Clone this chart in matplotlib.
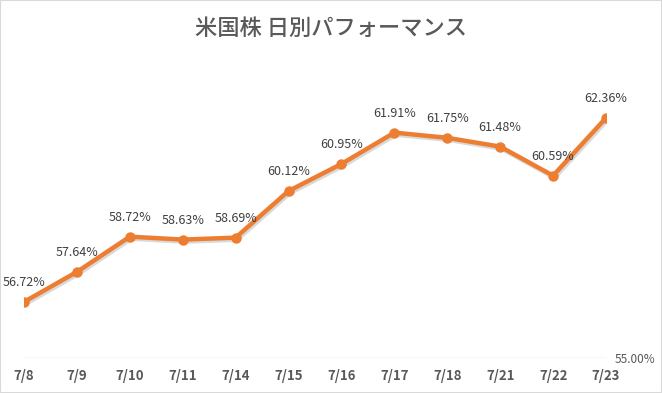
import matplotlib.pyplot as plt
import matplotlib.patheffects as pe
from matplotlib.patches import Rectangle

dates = ["7/8", "7/9", "7/10", "7/11", "7/14", "7/15", "7/16", "7/17", "7/18", "7/21", "7/22", "7/23"]
perf = [56.72, 57.64, 58.72, 58.63, 58.69, 60.12, 60.95, 61.91, 61.75, 61.48, 60.59, 62.36]

plt.rcParams['font.family'] = ['Noto Sans CJK JP', 'DejaVu Sans']

fig = plt.figure(figsize=(6.62, 3.93), dpi=100)
ax = fig.add_axes([24 / 662, 1 - 358 / 393, (606 - 24) / 662, 0.83])

x = list(range(len(dates)))
# line with a soft shadow, then markers on top
ax.plot(x, perf, color='#ED7D31', lw=3.2, solid_capstyle='round', solid_joinstyle='round',
        path_effects=[pe.SimpleLineShadow(offset=(1, -1.5), alpha=0.15), pe.Normal()])
ax.plot(x, perf, 'o', color='#ED7D31', ms=6.5)

for xi, v in zip(x, perf):
    ax.annotate(f"{v:.2f}%", (xi, v), xytext=(0, 9), textcoords='offset points',
                ha='center', va='bottom', fontsize=9, color='#404040')

ax.set_xlim(0, len(dates) - 1)
ax.set_ylim(55, 65)
ax.set_xticks(x)
ax.set_xticklabels(dates, fontweight='bold', fontsize=9.5, color='#595959')
ax.yaxis.tick_right()
ax.set_yticks([55])
ax.set_yticklabels(["55.00%"], fontsize=8.5, color='#595959')
ax.tick_params(length=0)
ax.tick_params(axis='x', pad=8)
ax.tick_params(axis='y', pad=6)
for s in ax.spines.values():
    s.set_visible(False)
ax.axhline(55, color='#D9D9D9', lw=1, zorder=0)

fig.text(0.5, 1 - 28 / 393, "米国株 日別パフォーマンス", ha='center', va='center',
         fontsize=16, fontweight='medium', color='#595959')
fig.patches.append(Rectangle((0, 0), 1, 1, transform=fig.transFigure, fill=False,
                             edgecolor='#D9D9D9', lw=1.5))

fig.savefig("out.png", dpi=100)
